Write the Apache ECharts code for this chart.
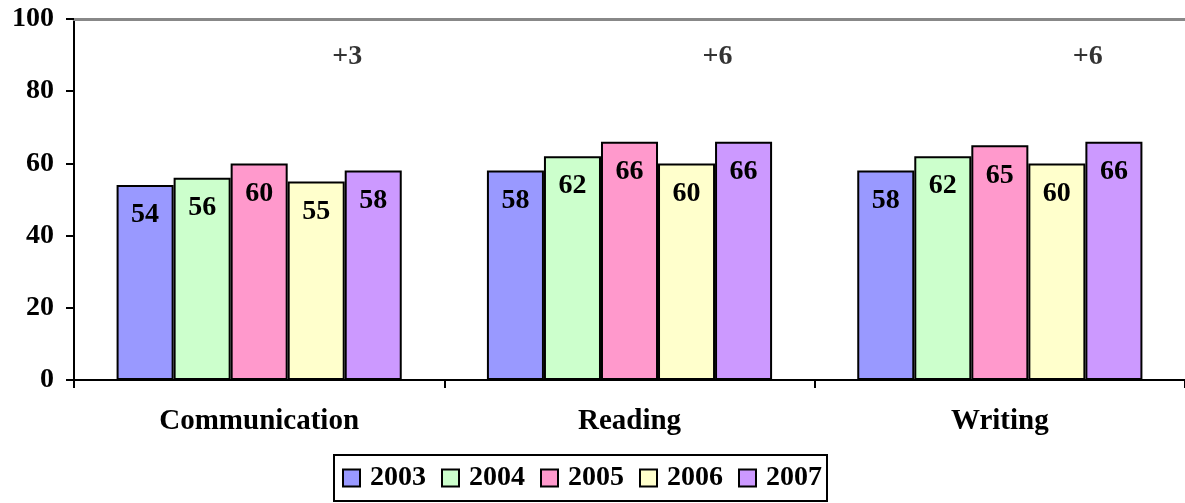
<!DOCTYPE html>
<html>
<head>
<meta charset="utf-8">
<script src="https://cdn.jsdelivr.net/npm/echarts@6/dist/echarts.min.js"></script>
<style>html,body{margin:0;padding:0;background:#fff;}#c{width:1185px;height:503px;}</style>
</head>
<body>
<div id="c"></div>
<script>
const categories = ['Communication', 'Reading', 'Writing'];
const years = ['2003', '2004', '2005', '2006', '2007'];
const v2003 = [54, 58, 58];
const v2004 = [56, 62, 62];
const v2005 = [60, 66, 65];
const v2006 = [55, 60, 60];
const v2007 = [58, 66, 66];
const changes = ['+3', '+6', '+6'];
const changeLevel = 89.5;
const colors = ['#9999FF', '#CCFFCC', '#FF99CC', '#FFFFCC', '#CC99FF'];
const seriesValues = [v2003, v2004, v2005, v2006, v2007];

const FONT = '"Liberation Serif", "Times New Roman", serif';
const chart = echarts.init(document.getElementById('c'));
const barSeries = years.map((y, i) => ({
  name: y,
  type: 'bar',
  data: seriesValues[i],
  barGap: '0%',
  barCategoryGap: '23%',
  itemStyle: { color: colors[i], borderColor: '#000', borderWidth: 2 },
  label: {
    show: true, position: 'insideTop', distance: 16,
    fontFamily: FONT, fontWeight: 'bold', fontSize: 28, color: '#000'
  },
  emphasis: { disabled: true }
}));
barSeries.push({
  type: 'scatter',
  symbolSize: 0,
  data: categories.map((c, i) => ({ value: [c, changeLevel], label: { formatter: changes[i] } })),
  label: {
    show: true, position: 'inside', offset: [88, 0],
    fontFamily: FONT, fontWeight: 'bold', fontSize: 28, color: '#000'
  },
  silent: true
});
chart.setOption({
  animation: false,
  color: colors,
  grid: { left: 74, right: -3, top: 19, bottom: 123, containLabel: false },
  legend: {
    data: years,
    top: 455,
    left: 334,
    icon: 'rect',
    itemWidth: 17, itemHeight: 17, itemGap: 15,
    padding: [9, 5, 9, 8],
    borderColor: '#000', borderWidth: 2,
    itemStyle: { borderColor: '#000', borderWidth: 2 },
    textStyle: { fontFamily: FONT, fontWeight: 'bold', fontSize: 28, color: '#000', padding: [0, 0, 0, 5] }
  },
  xAxis: [{
    type: 'category', data: categories,
    axisLine: { lineStyle: { color: '#000', width: 2 } },
    axisTick: { show: true, length: 8, lineStyle: { color: '#000', width: 2 } },
    axisLabel: { fontFamily: FONT, fontWeight: 'bold', fontSize: 29, color: '#000', margin: 27 }
  }, {
    type: 'category', data: categories, position: 'top',
    axisLine: { lineStyle: { color: '#888', width: 3 } },
    axisTick: { show: false }, axisLabel: { show: false }
  }],
  yAxis: {
    type: 'value', min: 0, max: 100, interval: 20,
    axisLine: { show: true, lineStyle: { color: '#000', width: 2 } },
    axisTick: { show: true, length: 8, lineStyle: { color: '#000', width: 2 } },
    splitLine: { show: false },
    axisLabel: { fontFamily: FONT, fontWeight: 'bold', fontSize: 28, color: '#000', margin: 20 }
  },
  series: barSeries
});
</script>
</body>
</html>
